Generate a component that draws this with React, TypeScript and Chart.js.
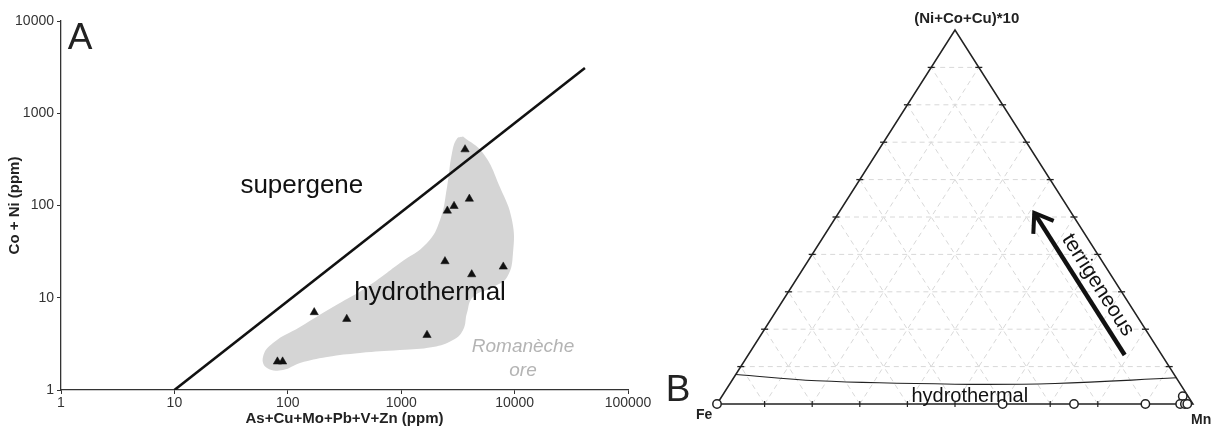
import React, { useEffect, useRef } from 'react';
import { Chart, registerables } from 'chart.js';

Chart.register(...registerables);

const FONT = '"Liberation Sans", Arial, Helvetica, sans-serif';
Chart.defaults.font.family = FONT;

// ---------------- Panel A data ----------------
const xTickValues = [1, 10, 100, 1000, 10000, 100000];
const yTickValues = [1, 10, 100, 1000, 10000];

const sampleX = [3655, 3990, 2924, 2552, 2432, 7946, 4186, 171, 331, 1689, 81, 90];
const sampleY = [405, 118, 98.5, 87.7, 24.8, 21.7, 17.9, 6.95, 5.88, 3.94, 2.03, 2.03];

const boundaryX = [10, 41700];
const boundaryY = [1, 3090];

// Romaneche ore field outline
const fieldX = [3508, 5260, 7430, 9480, 9680, 8570, 6450, 4300, 3800, 3510, 2860, 1907, 975, 433, 222, 128, 90.7, 65.6, 60.4, 74, 128, 250, 500, 975, 1690, 2200, 2535, 2805, 3100];
const fieldY = [560, 370, 158, 69.5, 30.5, 16.7, 13.1, 10.2, 6.83, 4.47, 3.48, 2.92, 2.71, 2.52, 2.28, 1.96, 1.65, 1.73, 2.28, 3.23, 4.82, 7.93, 13.1, 23.8, 39.2, 69.5, 158, 370, 530];

const labelsA = [
  { text: 'A', x: 1.47, y: 6430, font: `37px ${FONT}`, color: '#222' },
  { text: 'supergene', x: 133, y: 162, font: `26px ${FONT}`, color: '#111' },
  { text: 'hydrothermal', x: 1795, y: 11.2, font: `26px ${FONT}`, color: '#111' },
  { text: 'Romanèche', x: 11860, y: 2.92, font: `italic 19px ${FONT}`, color: '#b4b4b4' },
  { text: 'ore', x: 11860, y: 1.61, font: `italic 19px ${FONT}`, color: '#b4b4b4' },
];

// ---------------- Panel B data (Fe, Mn, (Ni+Co+Cu)*10 in %) ----------------
const gridSteps = [10, 20, 30, 40, 50, 60, 70, 80, 90];

const sampleFe = [100, 40, 25, 10, 1.1, 2.7, 1.7, 1.2];
const sampleMn = [0, 60, 75, 90, 96.8, 97.3, 98.3, 98.8];
const sampleT = [0, 0, 0, 0, 2.1, 0, 0, 0];

const curveFe = [92.1, 75.9, 47.35, 26.25, 0];
const curveMn = [0, 17.9, 47.35, 68.25, 93];
const curveT = [7.9, 6.2, 5.3, 5.5, 7.0];

const arrowFe = [7.8, 7.8];
const arrowMn = [79.1, 41.1];
const arrowT = [13.1, 51.1];

const toXY = (fe: number, mn: number, t: number) => {
  const s = fe + mn + t;
  return { x: (mn + t / 2) / s, y: t / s };
};

const labelsB = [
  { text: '(Ni+Co+Cu)*10', x: 0.5246, y: 1.031, font: `bold 15px ${FONT}`, color: '#222' },
  { text: 'Fe', x: -0.027, y: -0.029, font: `bold 14px ${FONT}`, color: '#222' },
  { text: 'Mn', x: 1.017, y: -0.043, font: `bold 14px ${FONT}`, color: '#222' },
  { text: 'hydrothermal', x: 0.531, y: 0.0214, font: `20px ${FONT}`, color: '#111' },
  { text: 'terrigeneous', x: 0.80, y: 0.318, font: `21px ${FONT}`, color: '#111', rotate: 57.5 },
  { text: 'B', x: -0.082, y: 0.035, font: `37px ${FONT}`, color: '#222' },
];

type Lab = { text: string; x: number; y: number; font: string; color: string; rotate?: number };

const makeTextPlugin = (id: string, labels: Lab[]) => ({
  id,
  afterDatasetsDraw(chart: any) {
    const { ctx } = chart;
    const xs = chart.scales.x;
    const ys = chart.scales.y;
    labels.forEach((l) => {
      ctx.save();
      ctx.translate(xs.getPixelForValue(l.x), ys.getPixelForValue(l.y));
      if (l.rotate) ctx.rotate((l.rotate * Math.PI) / 180);
      ctx.font = l.font;
      ctx.fillStyle = l.color;
      ctx.textAlign = 'center';
      ctx.textBaseline = 'middle';
      ctx.fillText(l.text, 0, 0);
      ctx.restore();
    });
  },
});

const arrowHeadPlugin = {
  id: 'arrowHead',
  afterDatasetsDraw(chart: any) {
    const { ctx } = chart;
    const xs = chart.scales.x;
    const ys = chart.scales.y;
    const a = toXY(arrowFe[0], arrowMn[0], arrowT[0]);
    const b = toXY(arrowFe[1], arrowMn[1], arrowT[1]);
    const x0 = xs.getPixelForValue(a.x), y0 = ys.getPixelForValue(a.y);
    const x1 = xs.getPixelForValue(b.x), y1 = ys.getPixelForValue(b.y);
    const ang = Math.atan2(y0 - y1, x0 - x1);
    const len = 21;
    const spread = (35 * Math.PI) / 180;
    ctx.save();
    ctx.strokeStyle = '#111';
    ctx.lineWidth = 4;
    ctx.lineJoin = 'miter';
    ctx.beginPath();
    ctx.moveTo(x1 + len * Math.cos(ang - spread), y1 + len * Math.sin(ang - spread));
    ctx.lineTo(x1, y1);
    ctx.lineTo(x1 + len * Math.cos(ang + spread), y1 + len * Math.sin(ang + spread));
    ctx.stroke();
    ctx.restore();
  },
};

const fixAxis = (size: number, vertical: boolean) => (scale: any) => {
  if (vertical) scale.width = size;
  else scale.height = size;
  scale.paddingLeft = 0;
  scale.paddingRight = 0;
  scale.paddingTop = 0;
  scale.paddingBottom = 0;
};

export default function App() {
  const refA = useRef<HTMLCanvasElement>(null);
  const refB = useRef<HTMLCanvasElement>(null);

  useEffect(() => {
    const fieldPts = fieldX.map((x, i) => ({ x, y: fieldY[i] }));
    fieldPts.push({ ...fieldPts[0] });

    const chartA = new Chart(refA.current as HTMLCanvasElement, {
      type: 'line',
      data: {
        datasets: [
          {
            data: sampleX.map((x, i) => ({ x, y: sampleY[i] })),
            showLine: false,
            pointStyle: 'triangle',
            pointRadius: 4.8,
            pointBackgroundColor: '#111',
            pointBorderColor: '#111',
            pointBorderWidth: 0.5,
            order: 0,
          },
          {
            data: boundaryX.map((x, i) => ({ x, y: boundaryY[i] })),
            showLine: true,
            borderColor: '#111',
            borderWidth: 2.6,
            pointRadius: 0,
            order: 1,
          },
          {
            data: fieldPts,
            showLine: true,
            fill: 'shape',
            backgroundColor: '#d5d5d5',
            borderColor: '#d5d5d5',
            borderWidth: 0,
            pointRadius: 0,
            tension: 0.45,
            order: 2,
          } as any,
        ],
      },
      options: {
        responsive: false,
        animation: false,
        events: [],
        layout: { padding: { left: 4, top: 21, right: 52, bottom: 0 } },
        plugins: { legend: { display: false }, tooltip: { enabled: false } },
        scales: {
          x: {
            type: 'logarithmic',
            min: 1,
            max: 100000,
            afterBuildTicks: (s: any) => { s.ticks = xTickValues.map((v) => ({ value: v })); },
            afterFit: fixAxis(40, false),
            ticks: {
              autoSkip: false,
              maxRotation: 0,
              padding: 1,
              color: '#333',
              font: { size: 14 },
              callback: (v: any) => String(v),
            },
            grid: { drawOnChartArea: false, drawTicks: true, tickLength: 4, tickColor: '#333', tickWidth: 1 },
            border: { display: true, color: '#333', width: 1.3 },
            title: {
              display: true,
              text: 'As+Cu+Mo+Pb+V+Zn (ppm)',
              color: '#222',
              font: { size: 15, weight: 'bold' },
              padding: { top: 0, bottom: 2 },
            },
          },
          y: {
            type: 'logarithmic',
            min: 1,
            max: 10000,
            afterBuildTicks: (s: any) => { s.ticks = yTickValues.map((v) => ({ value: v })); },
            afterFit: fixAxis(57, true),
            ticks: {
              autoSkip: false,
              padding: 3,
              color: '#333',
              font: { size: 14 },
              callback: (v: any) => String(v),
            },
            grid: { drawOnChartArea: false, drawTicks: true, tickLength: 4, tickColor: '#333', tickWidth: 1 },
            border: { display: true, color: '#333', width: 1.3 },
            title: {
              display: true,
              text: 'Co + Ni (ppm)',
              color: '#222',
              font: { size: 15, weight: 'bold' },
              padding: { top: 2, bottom: 0 },
            },
          },
        },
      } as any,
      plugins: [makeTextPlugin('labelsA', labelsA)],
    });

    // ---------- Panel B ----------
    const gridStyle = {
      showLine: true,
      borderColor: '#d8d8d8',
      borderWidth: 1,
      borderDash: [5, 4],
      pointRadius: 0,
      clip: false,
      order: 5,
    };
    const gridSets: any[] = [];
    gridSteps.forEach((t) => {
      gridSets.push({ ...gridStyle, data: [toXY(100 - t, 0, t), toXY(0, 100 - t, t)] });
      gridSets.push({ ...gridStyle, data: [toXY(100 - t, t, 0), toXY(0, t, 100 - t)] });
      gridSets.push({ ...gridStyle, data: [toXY(t, 100 - t, 0), toXY(t, 0, 100 - t)] });
    });

    const edgeTicks = [
      ...gridSteps.map((t) => toXY(100 - t, 0, t)),
      ...gridSteps.map((t) => toXY(0, 100 - t, t)),
    ];
    const baseTicks = gridSteps.map((t) => toXY(100 - t, t, 0));

    const chartB = new Chart(refB.current as HTMLCanvasElement, {
      type: 'line',
      data: {
        datasets: [
          {
            data: sampleFe.map((fe, i) => toXY(fe, sampleMn[i], sampleT[i])),
            showLine: false,
            pointStyle: 'circle',
            pointRadius: 4.2,
            pointBackgroundColor: '#fff',
            pointBorderColor: '#222',
            pointBorderWidth: 1.5,
            clip: false,
            order: 0,
          },
          {
            data: arrowFe.map((fe, i) => toXY(fe, arrowMn[i], arrowT[i])),
            showLine: true,
            borderColor: '#111',
            borderWidth: 4.5,
            pointRadius: 0,
            clip: false,
            order: 1,
          },
          {
            data: curveFe.map((fe, i) => toXY(fe, curveMn[i], curveT[i])),
            showLine: true,
            borderColor: '#222',
            borderWidth: 1.1,
            pointRadius: 0,
            tension: 0.4,
            clip: false,
            order: 2,
          },
          {
            data: [toXY(100, 0, 0), toXY(0, 100, 0), toXY(0, 0, 100), toXY(100, 0, 0)],
            showLine: true,
            borderColor: '#222',
            borderWidth: 1.5,
            pointRadius: 0,
            clip: false,
            order: 3,
          },
          {
            data: edgeTicks,
            showLine: false,
            pointStyle: 'line',
            pointRadius: 3.5,
            pointBorderColor: '#222',
            pointBorderWidth: 1.3,
            clip: false,
            order: 4,
          },
          {
            data: baseTicks,
            showLine: false,
            pointStyle: 'line',
            pointRotation: 90,
            pointRadius: 3,
            pointBorderColor: '#222',
            pointBorderWidth: 1.2,
            clip: false,
            order: 4,
          },
          ...gridSets,
        ],
      },
      options: {
        responsive: false,
        animation: false,
        events: [],
        layout: { padding: { left: 67, top: 30, right: 24, bottom: 26 } },
        plugins: { legend: { display: false }, tooltip: { enabled: false } },
        scales: {
          x: { type: 'linear', min: 0, max: 1, display: false },
          y: { type: 'linear', min: 0, max: 1, display: false },
        },
      } as any,
      plugins: [arrowHeadPlugin, makeTextPlugin('labelsB', labelsB)],
    });

    return () => {
      chartA.destroy();
      chartB.destroy();
    };
  }, []);

  return (
    <div style={{ position: 'absolute', left: 0, top: 0, width: 1217, height: 430, background: '#fff', overflow: 'hidden' }}>
      <canvas ref={refA} width={680} height={430} style={{ position: 'absolute', left: 0, top: 0, width: 680, height: 430 }} />
      <canvas ref={refB} width={567} height={430} style={{ position: 'absolute', left: 650, top: 0, width: 567, height: 430 }} />
    </div>
  );
}
